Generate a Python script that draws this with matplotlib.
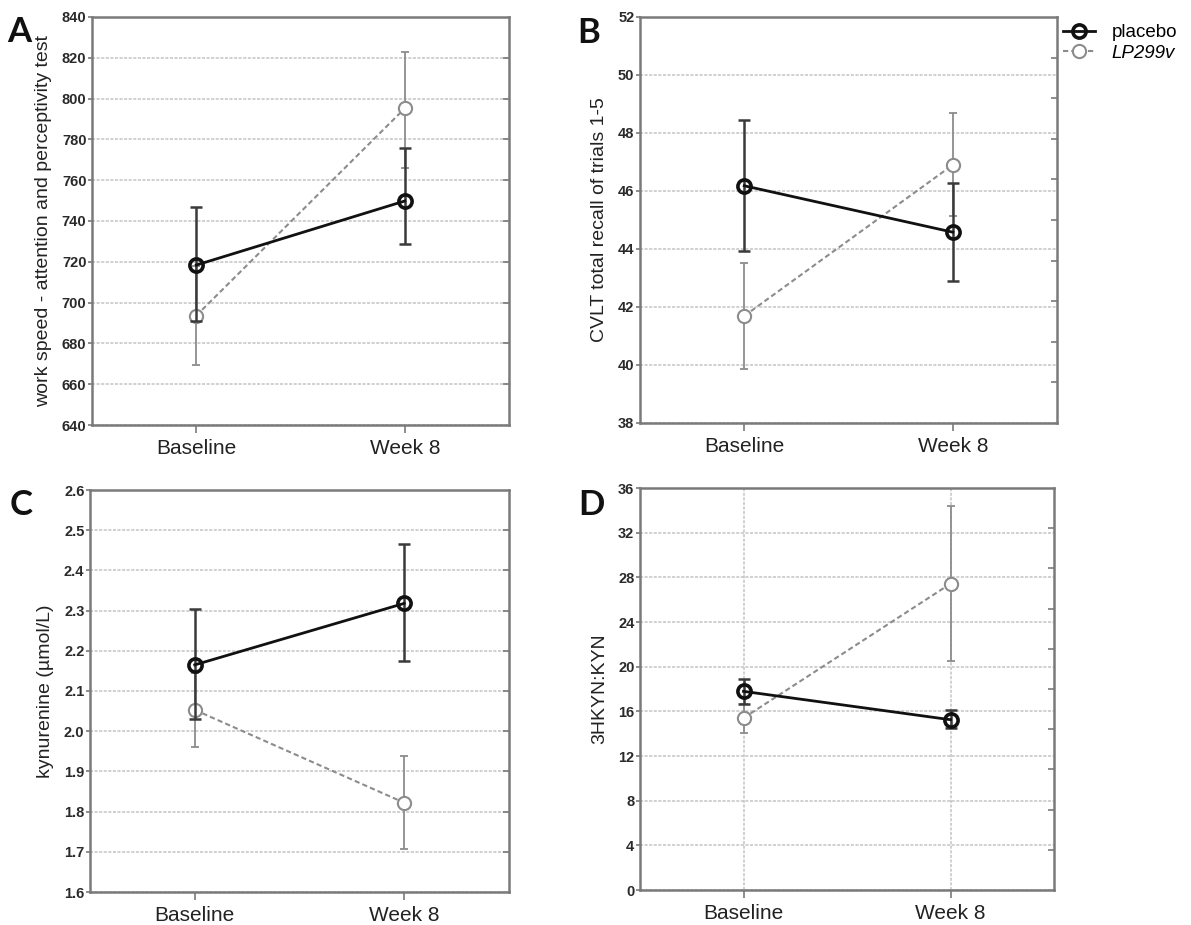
import matplotlib
matplotlib.use("Agg")
import matplotlib.pyplot as plt
import numpy as np

plt.rcParams['font.family'] = ['Liberation Sans', 'DejaVu Sans']

# ---------------- data ----------------
timepoints = ["Baseline", "Week 8"]
groups = ["placebo", "LP299v"]

# Panel A: work speed
a_placebo = [718.4, 749.8]
a_placebo_lo = [690.8, 728.5]
a_placebo_hi = [746.9, 775.7]
a_lp = [693.6, 795.2]
a_lp_lo = [669.5, 766.0]
a_lp_hi = [717.7, 822.8]

# Panel B: CVLT
b_placebo = [46.18, 44.58]
b_placebo_lo = [43.94, 42.90]
b_placebo_hi = [48.46, 46.26]
b_lp = [41.69, 46.90]
b_lp_lo = [39.87, 45.15]
b_lp_hi = [43.53, 48.68]

# Panel C: kynurenine
c_placebo = [2.165, 2.318]
c_placebo_lo = [2.030, 2.174]
c_placebo_hi = [2.304, 2.466]
c_lp = [2.053, 1.822]
c_lp_lo = [1.960, 1.707]
c_lp_hi = [2.146, 1.939]

# Panel D: 3HKYN:KYN
d_placebo = [17.79, 15.25]
d_placebo_lo = [16.66, 14.50]
d_placebo_hi = [18.93, 16.09]
d_lp = [15.40, 27.43]
d_lp_lo = [14.04, 20.48]
d_lp_hi = [16.70, 34.42]

W, H = 1191, 925


def rect(l, r, t, b):
    return [l / W, 1 - b / H, (r - l) / W, (b - t) / H]


panels = [
    dict(letter="A", lpos=(7, 42), ylabel="work speed - attention and perceptivity test",
         ylim=(640, 840), yticks=np.arange(640, 841, 20), fmt="{:.0f}",
         pl=a_placebo, pl_lo=a_placebo_lo, pl_hi=a_placebo_hi,
         lp=a_lp, lp_lo=a_lp_lo, lp_hi=a_lp_hi,
         rect=rect(92, 509, 17, 425), right="major", vgrid=False),
    dict(letter="B", lpos=(577, 43), ylabel="CVLT total recall of trials 1-5",
         ylim=(38, 52), yticks=np.arange(38, 53, 2), fmt="{:.0f}",
         pl=b_placebo, pl_lo=b_placebo_lo, pl_hi=b_placebo_hi,
         lp=b_lp, lp_lo=b_lp_lo, lp_hi=b_lp_hi,
         rect=rect(640, 1057, 17, 423), right="tenths", vgrid=False),
    dict(letter="C", lpos=(10, 515), ylabel="kynurenine (\u00b5mol/L)",
         ylim=(1.6, 2.6), yticks=np.round(np.arange(1.6, 2.61, 0.1), 1), fmt="{:.1f}",
         pl=c_placebo, pl_lo=c_placebo_lo, pl_hi=c_placebo_hi,
         lp=c_lp, lp_lo=c_lp_lo, lp_hi=c_lp_hi,
         rect=rect(90, 509, 490, 892), right="major", vgrid=False),
    dict(letter="D", lpos=(578, 515), ylabel="3HKYN:KYN",
         ylim=(0, 36), yticks=np.arange(0, 37, 4), fmt="{:.0f}",
         pl=d_placebo, pl_lo=d_placebo_lo, pl_hi=d_placebo_hi,
         lp=d_lp, lp_lo=d_lp_lo, lp_hi=d_lp_hi,
         rect=rect(640, 1054, 488, 890), right="tenths", vgrid=True),
]

fig = plt.figure(figsize=(W / 100, H / 100), dpi=100)
x = np.arange(len(timepoints))

spine_col = "#7a7a7a"
grid_col = "#c4c4c4"
handles = None
for p in panels:
    ax = fig.add_axes(p["rect"])
    ax.set_xlim(-0.5, 1.5)
    ax.set_ylim(*p["ylim"])
    ax.set_yticks(p["yticks"])
    ax.set_yticklabels([p["fmt"].format(v) for v in p["yticks"]],
                       fontsize=10.5, fontweight="bold", color="#2a2a2a")
    ax.set_xticks(x)
    ax.set_xticklabels(timepoints, fontsize=15, color="#222222")
    ax.tick_params(axis="y", direction="out", length=3, width=1.2, color=spine_col, pad=1)
    ax.tick_params(axis="x", direction="out", length=6, width=1.2, color=spine_col, pad=4)
    for s in ax.spines.values():
        s.set_color(spine_col)
        s.set_linewidth(1.8)
    ax.grid(axis="y", color=grid_col, linestyle=(0, (2, 1)), linewidth=1.1)
    if p["vgrid"]:
        ax.grid(axis="x", color=grid_col, linestyle=(0, (2, 1)), linewidth=1.1)
    ax.set_axisbelow(True)

    pl = np.array(p["pl"]); lp = np.array(p["lp"])
    pl_err = [pl - np.array(p["pl_lo"]), np.array(p["pl_hi"]) - pl]
    lp_err = [lp - np.array(p["lp_lo"]), np.array(p["lp_hi"]) - lp]

    ax.errorbar(x, lp, yerr=lp_err, fmt="none", ecolor="#8c8c8c",
                elinewidth=1.3, capsize=3, capthick=1.3, zorder=2)
    h2, = ax.plot(x, lp, color="#8c8c8c", linestyle=(0, (2.5, 1.5)), linewidth=1.5,
                  marker="o", markersize=9.5, markerfacecolor="white",
                  markeredgecolor="#8c8c8c", markeredgewidth=1.5, zorder=3)
    ax.errorbar(x, pl, yerr=pl_err, fmt="none", ecolor="#3a3a3a",
                elinewidth=1.8, capsize=4, capthick=1.8, zorder=4)
    h1, = ax.plot(x, pl, color="#111111", linestyle="-", linewidth=2.0,
                  marker="o", markersize=9.5, markerfacecolor="none",
                  markeredgecolor="#111111", markeredgewidth=2.6, zorder=5)
    if handles is None:
        handles = [h1, h2]

    ax.set_ylabel(p["ylabel"], fontsize=14, color="#222222", labelpad=7)

    y0, y1 = p["ylim"]
    if p["right"] == "tenths":
        rt = np.linspace(y0, y1, 11)[1:-1]
    else:
        rt = np.array(p["yticks"])[1:-1]
    ax2 = ax.twinx()
    ax2.set_ylim(*p["ylim"])
    ax2.set_yticks(rt)
    ax2.set_yticklabels([])
    ax2.tick_params(axis="y", direction="in", length=4, width=1.2, color=spine_col)
    for s in ax2.spines.values():
        s.set_visible(False)

    lx, ly = p["lpos"]
    fig.text(lx / W, 1 - ly / H, p["letter"], fontsize=25, fontweight="bold",
             family=["Lato", "DejaVu Sans"], ha="left", va="baseline", color="#111111")

leg = fig.legend(handles, groups, loc="upper left", bbox_to_anchor=(1063 / W, 1 - 24 / H),
                 frameon=False, fontsize=13.5, handlelength=1.7, handletextpad=0.9,
                 labelspacing=0.2, borderaxespad=0, borderpad=0)
leg.get_texts()[1].set_style("italic")

fig.savefig("out.png", dpi=100)
